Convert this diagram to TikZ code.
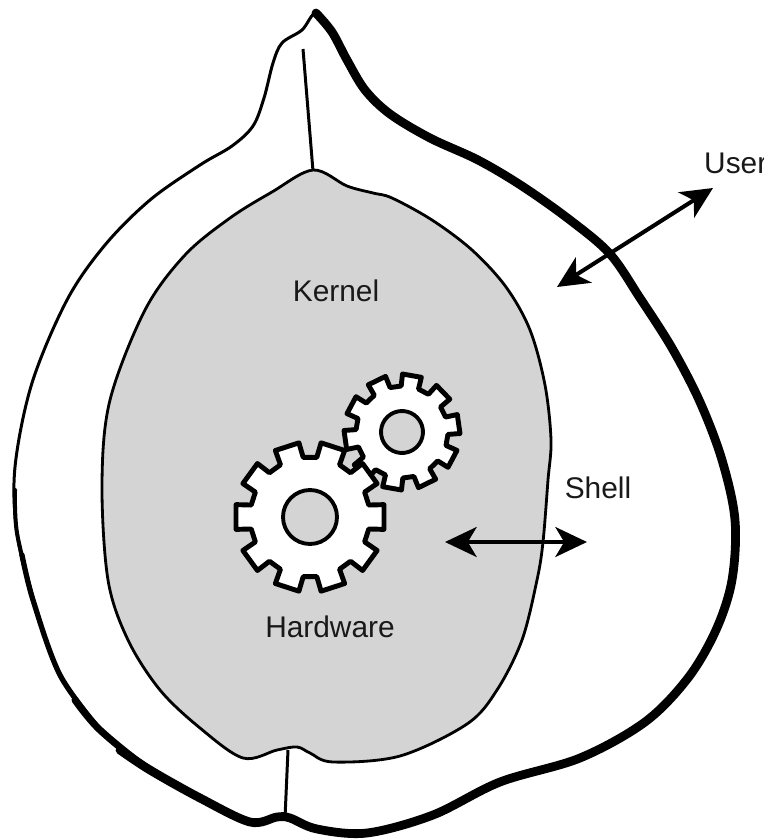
\documentclass[tikz,border=0pt]{standalone}
\usepackage{fontspec}
\setmainfont{Liberation Sans}
\usetikzlibrary{arrows.meta, positioning}

\definecolor{kernelgray}{gray}{0.83}

\begin{document}
\begin{tikzpicture}[x=0.02cm, y=-0.02cm, >={Stealth[length=18pt, width=17pt, inset=5pt]},
    layer/.style={font=\fontsize{17}{20}\selectfont, text=black!90},
    cog/.style={draw, line width=2.8pt, fill=white, line join=round},
    hole/.style={draw, line width=2.2pt, fill=kernelgray}]
    %\draw[step=50, gray!30, very thin] (0,0) grid (764,839);
    \useasboundingbox (0,0) rectangle (764,839);

    % outer skin, thin everywhere first
    \draw[line width=1.7pt, fill=white] plot[smooth cycle, tension=0.55] coordinates {
      (316,13) (332,32) (347,60) (365,90) (390,114) (430,138) (478,160) (522,186)
      (570,220) (610,254) (640,298) (672,348) (700,402) (722,460) (735,520) (732,580)
      (716,630) (688,678) (645,722) (580,758) (500,782) (433,815) (367,833) (317,829)
      (290,818) (277,817) (250,822) (200,798) (150,770) (100,730) (60,675) (33,600)
      (17,533) (15,467) (32,383) (67,300) (105,245) (150,200) (200,165) (232,146)
      (253,126) (264,98) (273,63) (282,43) (302,30)};
    % heavier right and bottom side
    \draw[line width=5pt, line cap=round] plot[smooth, tension=0.55] coordinates {
      (316,13) (332,32) (347,60) (365,90) (390,114) (430,138) (478,160) (522,186)
      (570,220) (610,254) (640,298) (672,348) (700,402) (722,460) (735,520) (732,580)
      (716,630) (688,678) (645,722) (580,758) (500,782) (433,815) (367,833) (317,829)
      (290,818) (277,817) (250,822) (200,798) (150,770) (120,750)};
    \draw[line width=4pt, line cap=round] plot[smooth, tension=0.55] coordinates {
      (200,798) (150,770) (100,730) (75,700)};
    \draw[line width=3pt, line cap=round] plot[smooth, tension=0.55] coordinates {
      (100,730) (60,675) (33,600) (22,555)};
    \draw[line width=2.3pt, line cap=round] plot[smooth, tension=0.55] coordinates {
      (33,600) (17,533) (15,490)};

    % kernel
    \draw[line width=1.6pt, fill=kernelgray] plot[smooth cycle, tension=0.55] coordinates {
      (313,170) (347,186) (373,193) (392,198) (432,220) (472,250) (506,287) (530,330)
      (545,385) (551,440) (548,480) (543,542) (537,580) (522,640) (497,690) (467,724)
      (400,756) (333,762) (310,753) (297,747) (277,750) (243,758) (200,728) (160,690)
      (128,640) (108,580) (102,483) (110,400) (145,310) (185,255) (230,218) (272,192)};

    % seams
    \draw[line width=1.7pt] (303,49) -- (313,171);
    \draw[line width=1.7pt] (288,750) -- (285,818);

    % small cog
    \begin{scope}[shift={(402,432)}, rotate=8]
      \draw[cog] (-11:46) \foreach \a in {0,36,...,324} {
        -- (\a-11:46) -- (\a-9.5:58) -- (\a+9.5:58) -- (\a+11:46)} -- cycle;
      \draw[hole] (0,0) circle (21);
    \end{scope}

    % big cog
    \begin{scope}[shift={(310,517)}]
      \draw[cog] (-11.5:60) \foreach \a in {0,36,...,324} {
        -- (\a-11.5:60) -- (\a-9.5:75) -- (\a+9.5:75) -- (\a+11.5:60)} -- cycle;
      \draw[hole] (0,0) circle (27);
    \end{scope}

    \node[layer] (kernel) at (336,291) {Kernel};
    \node[layer] (hardware) at (330,627) {Hardware};
    \node[layer] (shell) at (598,488) {Shell};
    \node[layer, anchor=base west] (user) at (698,173) {User};

    \coordinate (userin) at (557,287);
    \coordinate (userout) at (713,188);
    \coordinate (shellin) at (445,542);
    \coordinate (shellout) at (587,542);

    \draw[<->, line width=2.3pt] (userin) -- (userout);
    \draw[<->, line width=2.3pt] (shellin) -- (shellout);

  \end{tikzpicture}
\end{document}
